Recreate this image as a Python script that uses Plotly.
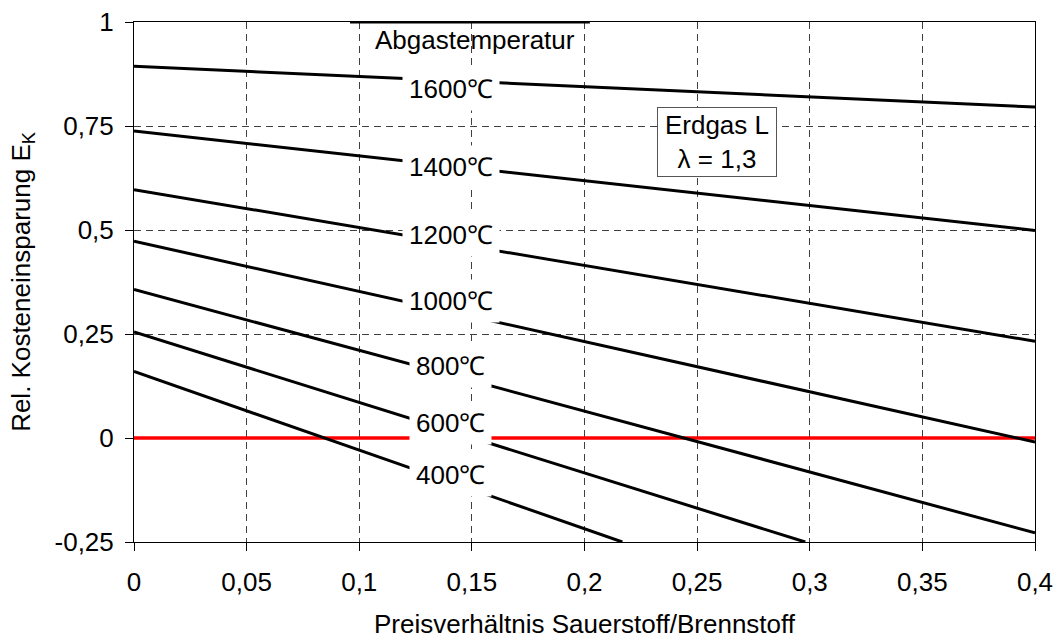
import plotly.graph_objects as go

# ---- data ----
temps = ["1600℃", "1400℃", "1200℃", "1000℃", "800℃", "600℃", "400℃"]
x_start = [0, 0, 0, 0, 0, 0, 0]
x_end = [0.4, 0.4, 0.4, 0.4, 0.4, 0.298, 0.2168]
y_start = [0.8935, 0.738, 0.597, 0.473, 0.357, 0.255, 0.160]
y_end = [0.7957, 0.499, 0.2325, -0.0096, -0.228, -0.25, -0.25]

label_x = [0.1406] * 7
label_y = [0.840, 0.651, 0.487, 0.329, 0.172, 0.036, -0.0897]

zero_x = [0, 0.4]
zero_y = [0, 0]

x_tick_vals = [0, 0.05, 0.1, 0.15, 0.2, 0.25, 0.3, 0.35, 0.4]
x_tick_text = ["0", "0,05", "0,1", "0,15", "0,2", "0,25", "0,3", "0,35", "0,4"]
y_tick_vals = [-0.25, 0, 0.25, 0.5, 0.75, 1]
y_tick_text = ["-0,25", "0", "0,25", "0,5", "0,75", "1"]

FONT = "Liberation Sans, Arial, Helvetica, sans-serif"
FS = 26

fig = go.Figure()

# zero line (red)
fig.add_trace(go.Scatter(x=zero_x, y=zero_y, mode="lines",
                         line=dict(color="#ff0000", width=3.5),
                         hoverinfo="skip", showlegend=False))

for t, x0, x1, y0, y1 in zip(temps, x_start, x_end, y_start, y_end):
    fig.add_trace(go.Scatter(x=[x0, x1], y=[y0, y1], mode="lines", name=t,
                             line=dict(color="black", width=3),
                             showlegend=False))

annotations = []
for t, lx, ly in zip(temps, label_x, label_y):
    annotations.append(dict(x=lx, y=ly, xref="x", yref="y", text=t,
                            showarrow=False, bgcolor="white", borderpad=6,
                            font=dict(family=FONT, size=FS, color="black")))

annotations.append(dict(x=0.1512, y=0.956, xref="x", yref="y",
                        text="Abgastemperatur", showarrow=False,
                        font=dict(family=FONT, size=FS, color="black")))

annotations.append(dict(x=0.259, y=0.711, xref="x", yref="y",
                        text="Erdgas L<br>λ = 1,3", showarrow=False,
                        bgcolor="white", bordercolor="#555555", borderwidth=1,
                        borderpad=2, width=114,
                        font=dict(family=FONT, size=FS, color="black")))

shapes = [
    dict(type="rect", xref="x", yref="y", x0=0.1026, x1=0.2024, y0=0.913, y1=1.0,
         fillcolor="white", line=dict(width=0), layer="below"),
    dict(type="line", xref="x", yref="y", x0=0.0959, x1=0.2024, y0=1.0, y1=1.0,
         line=dict(color="black", width=3), layer="above"),
]

axis_common = dict(
    automargin=False,
    showline=True, linecolor="black", linewidth=1, mirror=True,
    ticks="outside", ticklen=8, tickcolor="black", tickwidth=1,
    showgrid=True, gridcolor="#404040", gridwidth=1, griddash="7px,5px",
    zeroline=False,
    tickfont=dict(family=FONT, size=FS, color="black"),
)

fig.update_layout(
    template="none",
    width=1059, height=639,
    margin=dict(l=134, r=24, t=22, b=97, autoexpand=False),
    paper_bgcolor="white", plot_bgcolor="white",
    font=dict(family=FONT, size=FS, color="black"),
    showlegend=False,
    xaxis=dict(range=[0, 0.4], tickvals=x_tick_vals, ticktext=x_tick_text,
               ticklabelstandoff=9,
               title=dict(text="Preisverhältnis Sauerstoff/Brennstoff",
                          font=dict(family=FONT, size=FS), standoff=20),
               **axis_common),
    yaxis=dict(range=[-0.25, 1], tickvals=y_tick_vals, ticktext=y_tick_text,
               ticklabelstandoff=6,
               title=dict(text="Rel. Kosteneinsparung E<sub>K</sub>",
                          font=dict(family=FONT, size=FS), standoff=16),
               **axis_common),
    annotations=annotations,
    shapes=shapes,
)

fig.write_html("out.html",
               config={"displayModeBar": False, "staticPlot": True},
               post_script="document.body.style.margin='0';document.body.style.overflow='hidden';")
